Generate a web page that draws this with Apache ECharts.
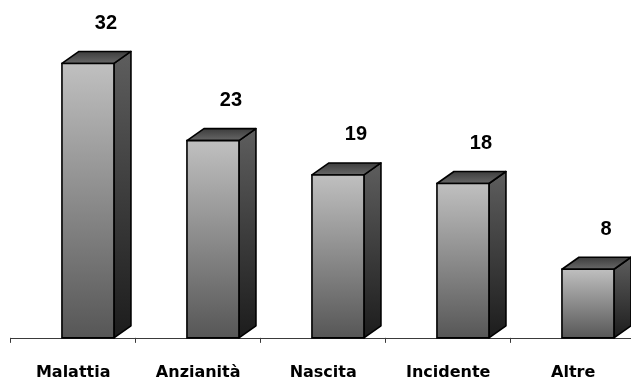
<!DOCTYPE html>
<html>
<head>
<meta charset="utf-8">
<script src="https://cdn.jsdelivr.net/npm/echarts@6/dist/echarts.min.js"></script>
<style>html,body{margin:0;padding:0;background:#fff}#c{width:631px;height:380px}</style>
</head>
<body>
<div id="c"></div>
<script>
var categories = ['Malattia', 'Anzianità', 'Nascita', 'Incidente', 'Altre'];
var values = [32, 23, 19, 18, 8];

var chart = echarts.init(document.getElementById('c'), null, {renderer: 'canvas'});

function renderBar(params, api) {
  var idx = api.value(0);
  var val = api.value(1);
  var top = api.coord([idx, val]);
  var base = api.coord([idx, 0]);
  var band = api.size([1, 0])[0];
  var w = band * 0.416;
  var x0 = top[0] - band * 0.09;
  var x1 = x0 + w;
  var dx = 17, dy = 12;
  var yt = top[1], yb = base[1];
  var lw = 1.6;
  return {
    type: 'group',
    children: [
      {
        type: 'polygon',
        shape: {points: [[x1, yt], [x1 + dx, yt - dy], [x1 + dx, yb - dy], [x1, yb]]},
        style: {
          fill: new echarts.graphic.LinearGradient(0, 0, 0, 1, [
            {offset: 0, color: '#5e5e5e'}, {offset: 1, color: '#1c1c1c'}
          ]),
          stroke: '#000', lineWidth: lw, lineJoin: 'round'
        }
      },
      {
        type: 'polygon',
        shape: {points: [[x0, yt], [x0 + dx, yt - dy], [x1 + dx, yt - dy], [x1, yt]]},
        style: {
          fill: new echarts.graphic.LinearGradient(0, 0, 0, 1, [
            {offset: 0, color: '#3a3a3a'}, {offset: 1, color: '#6a6a6a'}
          ]),
          stroke: '#000', lineWidth: lw, lineJoin: 'round'
        }
      },
      {
        type: 'rect',
        shape: {x: x0, y: yt, width: w, height: yb - yt},
        style: {
          fill: new echarts.graphic.LinearGradient(0, 0, 0, 1, [
            {offset: 0, color: '#c0c0c0'}, {offset: 1, color: '#565656'}
          ]),
          stroke: '#000', lineWidth: lw
        }
      },
      {
        type: 'text',
        x: x0 + dx + w / 2 + 1,
        y: yt - dy - 18,
        style: {
          text: String(val),
          fill: '#000',
          font: 'bold 20px "Liberation Sans", Arial, sans-serif',
          align: 'center',
          verticalAlign: 'bottom'
        }
      }
    ]
  };
}

chart.setOption({
  animation: false,
  backgroundColor: '#fff',
  grid: {left: 10.7, top: 0, width: 625, bottom: 31, containLabel: false, outerBoundsMode: 'none'},
  xAxis: {
    type: 'category',
    data: categories,
    boundaryGap: true,
    axisLine: {show: true, lineStyle: {color: '#3a3a3a', width: 1}},
    axisTick: {show: true, length: 5, lineStyle: {color: '#3a3a3a'}},
    axisLabel: {
      color: '#000',
      fontFamily: '"DejaVu Sans", sans-serif',
      fontWeight: 'bold',
      fontSize: 16,
      margin: 16,
      interval: 0
    }
  },
  yAxis: {
    type: 'value',
    min: -1.3,
    max: 39.4,
    show: false,
    splitLine: {show: false}
  },
  series: [{
    type: 'custom',
    renderItem: renderBar,
    data: values.map(function (v, i) { return [i, v]; }),
    encode: {x: 0, y: 1},
    clip: false
  }]
});
</script>
</body>
</html>
